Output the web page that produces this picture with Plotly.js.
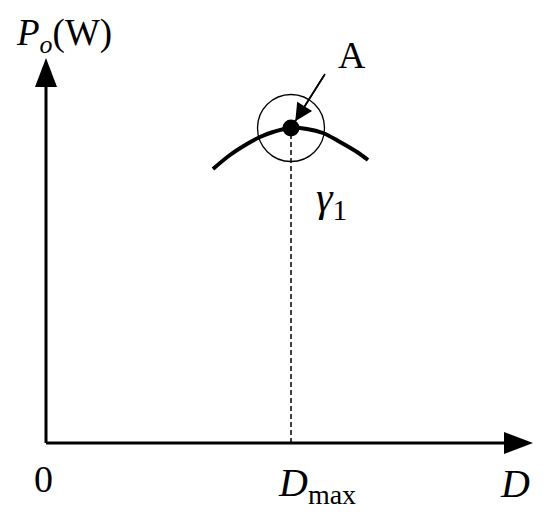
<!DOCTYPE html>
<html>
<head>
<meta charset="utf-8">
<script src="https://cdn.plot.ly/plotly-3.0.1.min.js"></script>
<style>
  html, body { margin: 0; padding: 0; background: #fff; }
  #chart { width: 550px; height: 521px; }
</style>
</head>
<body>
<div id="chart"></div>
<script>
// Output power vs duty cycle, schematic: power curve near its maximum (point A)
// units are arbitrary, origin of the axes is at (0, 0)

var dutyCycle = [1.67, 1.84, 2.01, 2.14, 2.27, 2.44, 2.61, 2.77, 2.94, 3.11, 3.22];
var outputPower = [2.74, 2.88, 2.99, 3.06, 3.11, 3.15, 3.14, 3.10, 3.01, 2.91, 2.83];

var dMax = [2.45];   // D_max
var pMax = [3.15];   // power at point A

// where the pointer to A starts
var pointerD = [2.79];
var pointerP = [3.69];

// axis extents (where the arrow tips are)
var xAxisEnd = 4.87;
var yAxisEnd = 3.85;

var ink = '#000';
var serif = 'Liberation Serif, Times New Roman, serif';

var curve = {
    x: dutyCycle,
    y: outputPower,
    mode: 'lines',
    line: {color: ink, width: 4, shape: 'spline'},
    hoverinfo: 'skip'
};

var dropLine = {
    x: [dMax[0], dMax[0]],
    y: [0, pMax[0]],
    mode: 'lines',
    line: {color: ink, width: 1.5, dash: '5px,3px'},
    hoverinfo: 'skip'
};

var ring = {
    x: dMax,
    y: pMax,
    mode: 'markers',
    marker: {symbol: 'circle-open', size: 67, color: ink, line: {width: 1.3, color: ink}},
    hoverinfo: 'skip'
};

var peak = {
    x: dMax,
    y: pMax,
    mode: 'markers',
    marker: {symbol: 'circle', size: 17, color: ink},
    hoverinfo: 'skip'
};

// pointer from label A to the peak
var pointer = {
    x: [pointerD[0], dMax[0]],
    y: [pointerP[0], pMax[0]],
    mode: 'lines',
    line: {color: ink, width: 1.6},
    hoverinfo: 'skip'
};

// axis lines + filled arrow heads
var headLen = 0.29, headHalf = 0.11;
function xHead(tip) {
    var b = tip - headLen;
    return 'M' + b + ',' + (-headHalf) + ' L' + tip + ',0 L' + b + ',' + headHalf + ' Z';
}
function yHead(tip) {
    var b = tip - headLen;
    return 'M' + (-headHalf) + ',' + b + ' L0,' + tip + ' L' + headHalf + ',' + b + ' Z';
}

var shapes = [
    {type: 'line', x0: 0, y0: 0, x1: xAxisEnd - headLen + 0.02, y1: 0, line: {color: ink, width: 3}},
    {type: 'line', x0: 0, y0: 0, x1: 0, y1: yAxisEnd - headLen + 0.02, line: {color: ink, width: 3}},
    {type: 'path', path: xHead(xAxisEnd), fillcolor: ink, line: {color: ink, width: 0}},
    {type: 'path', path: yHead(yAxisEnd), fillcolor: ink, line: {color: ink, width: 0}}
];

function label(txt, x, y, size, xanchor) {
    return {
        x: x, y: y, xref: 'x', yref: 'y',
        text: txt, showarrow: false,
        xanchor: xanchor || 'center', yanchor: 'middle',
        font: {family: serif, size: size, color: ink}
    };
}

var annotations = [
    // arrow head of the pointer (no text, only the head near the peak)
    {
        x: dMax[0], y: pMax[0], xref: 'x', yref: 'y',
        ax: pointerD[0], ay: pointerP[0], axref: 'x', ayref: 'y',
        text: '', showarrow: true, arrowhead: 2, arrowsize: 2.2, arrowwidth: 1.6,
        arrowcolor: ink, standoff: 8
    },
    label('A', 3.06, 3.88, 38),
    label('<i>P</i><sub><i>o</i></sub>(W)', -0.32, 4.08, 37, 'left'),
    label('0', -0.03, -0.36, 38),
    label('<i>D</i><sub>max</sub>', 2.30, -0.42, 40, 'left'),
    label('<i>D</i>', 4.69, -0.40, 40),
    label('<i>γ</i><sub>1</sub>', 2.68, 2.43, 42, 'left')
];

var layout = {
    width: 550,
    height: 521,
    margin: {l: 0, r: 0, t: 0, b: 0},
    paper_bgcolor: '#fff',
    plot_bgcolor: '#fff',
    showlegend: false,
    xaxis: {range: [-0.46, 5.04], visible: false, fixedrange: true},
    yaxis: {range: [-0.78, 4.43], visible: false, fixedrange: true},
    shapes: shapes,
    annotations: annotations
};

Plotly.newPlot('chart', [dropLine, curve, ring, peak, pointer], layout, {staticPlot: true});
</script>
</body>
</html>
